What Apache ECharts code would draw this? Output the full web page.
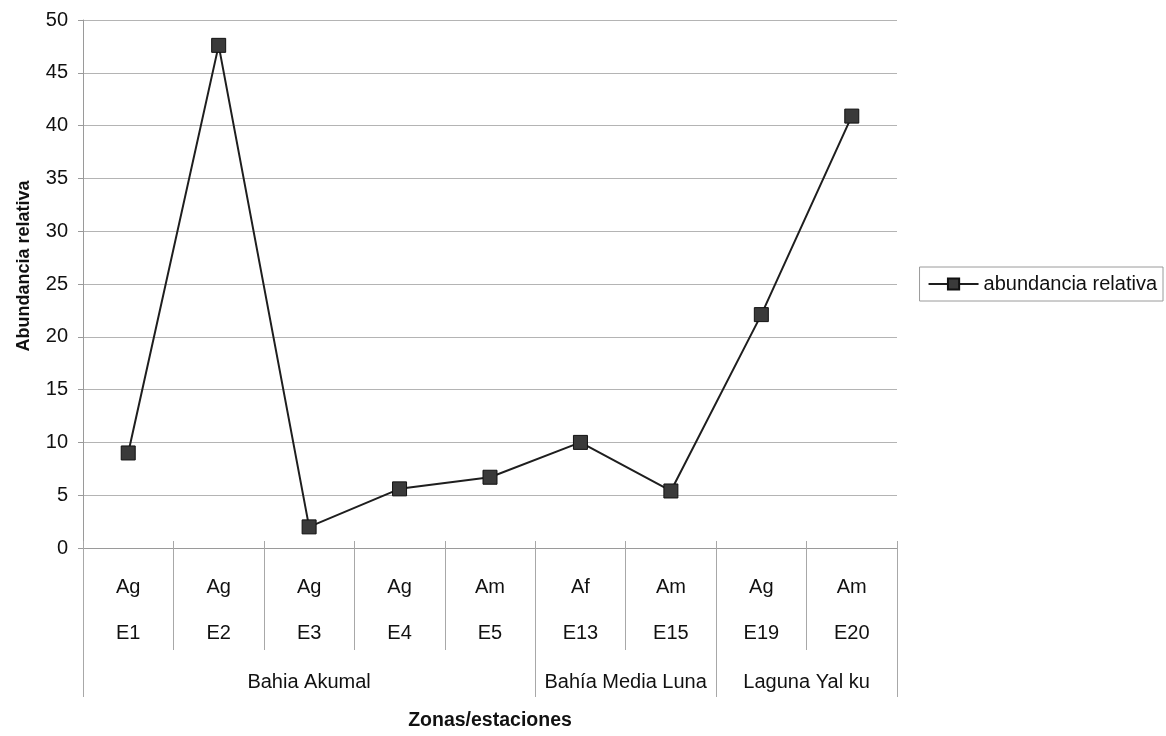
<!DOCTYPE html>
<html>
<head>
<meta charset="utf-8">
<title>Abundancia relativa por zona y estación</title>
<script src="https://cdn.jsdelivr.net/npm/echarts@6/dist/echarts.min.js"></script>
<style>
  html, body { margin: 0; padding: 0; background: #ffffff; }
  #chart { width: 1166px; height: 736px; }
</style>
</head>
<body>
<div id="chart"></div>
<script>
// Stations, habitat code of each station, and the zone they belong to
const stations = ['E1', 'E2', 'E3', 'E4', 'E5', 'E13', 'E15', 'E19', 'E20'];
const habitats = ['Ag', 'Ag', 'Ag', 'Ag', 'Am', 'Af', 'Am', 'Ag', 'Am'];
const zoneNames = ['Bahia Akumal', 'Bahía Media Luna', 'Laguna Yal ku'];
const zoneSpans = [5, 2, 2];

// Relative abundance per station
const abundance = [9.0, 47.6, 2.0, 5.6, 6.7, 10.0, 5.4, 22.1, 40.9];

// Y axis ticks
const yMin = 0, yMax = 50, yStep = 5;

const FONT = '"Liberation Sans", Arial, sans-serif';

// Zone boundaries and centres in category units
const zoneEdges = [0];
zoneSpans.forEach(s => zoneEdges.push(zoneEdges[zoneEdges.length - 1] + s));
const zoneCenters = zoneSpans.map((s, i) => zoneEdges[i] + s / 2);

const chart = echarts.init(document.getElementById('chart'), null, { renderer: 'canvas' });

chart.setOption({
  animation: false,
  backgroundColor: '#ffffff',
  grid: { left: 83, right: 269, top: 20, bottom: 188, containLabel: false },
  legend: {
    right: 3,
    top: 267,
    orient: 'vertical',
    borderColor: '#9a9a9a',
    borderWidth: 1,
    borderRadius: 0,
    padding: [7, 6, 7, 8],
    itemWidth: 50,
    itemHeight: 14,
    textStyle: { fontFamily: FONT, fontSize: 20, color: '#111' },
    data: ['abundancia relativa']
  },
  xAxis: [
    {
      // station row: habitat code above station name
      type: 'category',
      data: stations,
      position: 'bottom',
      boundaryGap: true,
      axisLine: { show: true, lineStyle: { color: '#9a9a9a', width: 1 } },
      axisTick: { show: true, interval: 0, length: 102, lineStyle: { color: '#a8a8a8', width: 1 } },
      axisLabel: {
        interval: 0,
        margin: 16,
        fontFamily: FONT,
        fontSize: 20,
        color: '#111',
        lineHeight: 46,
        formatter: (v, i) => habitats[i] + '\n' + v
      },
      splitLine: { show: false }
    },
    {
      // zone row
      type: 'value',
      min: 0,
      max: stations.length,
      position: 'bottom',
      axisLine: { show: false },
      axisTick: {
        show: true,
        customValues: zoneEdges,
        length: 149,
        lineStyle: { color: '#a8a8a8', width: 1 }
      },
      axisLabel: {
        customValues: zoneCenters,
        margin: 124,
        fontFamily: FONT,
        fontSize: 20,
        color: '#111',
        formatter: (v) => {
          const i = zoneCenters.findIndex(c => Math.abs(c - v) < 1e-6);
          return i >= 0 ? zoneNames[i] : '';
        }
      },
      splitLine: { show: false },
      name: 'Zonas/estaciones',
      nameLocation: 'middle',
      nameGap: 163,
      nameTextStyle: { fontFamily: FONT, fontSize: 19.5, fontWeight: 'bold', color: '#111' }
    },
    {
      // short tick stubs crossing the axis line
      type: 'category',
      data: stations,
      position: 'bottom',
      boundaryGap: true,
      axisLine: { show: false },
      axisTick: { show: true, interval: 0, inside: true, length: 7, lineStyle: { color: '#a8a8a8', width: 1 } },
      axisLabel: { show: false },
      splitLine: { show: false }
    }
  ],
  yAxis: {
    type: 'value',
    min: yMin,
    max: yMax,
    interval: yStep,
    axisLine: { show: true, lineStyle: { color: '#9a9a9a', width: 1 } },
    axisTick: { show: true, length: 5, lineStyle: { color: '#9a9a9a' } },
    axisLabel: { margin: 15, fontFamily: FONT, fontSize: 20, color: '#111' },
    splitLine: { show: true, lineStyle: { color: '#b4b4b4', width: 1 } },
    name: 'Abundancia relativa',
    nameLocation: 'middle',
    nameGap: 50,
    nameTextStyle: { fontFamily: FONT, fontSize: 18, fontWeight: 'bold', color: '#111', padding: [0, 0, 0, 36] }
  },
  series: [
    {
      name: 'abundancia relativa',
      type: 'line',
      xAxisIndex: 0,
      data: abundance,
      symbol: 'rect',
      symbolSize: 14,
      showAllSymbol: true,
      lineStyle: { color: '#1e1e1e', width: 2 },
      itemStyle: { color: '#3a3a3a', borderColor: '#111', borderWidth: 1 },
      emphasis: { disabled: true }
    }
  ]
});
</script>
</body>
</html>
